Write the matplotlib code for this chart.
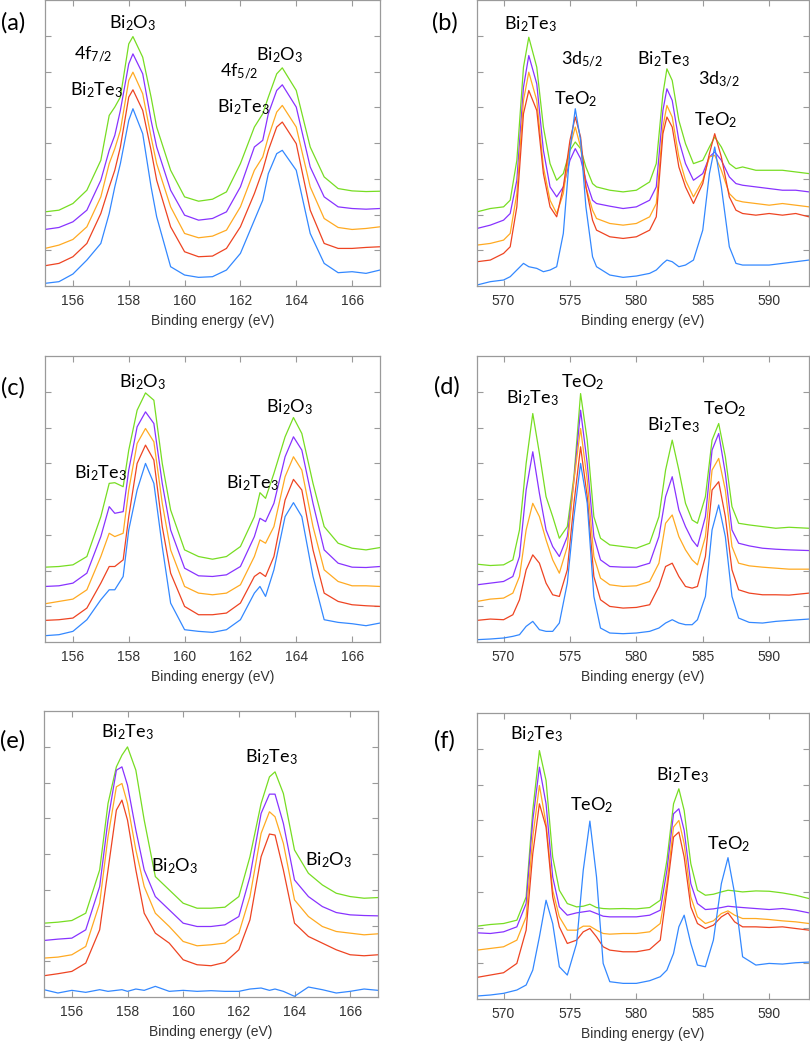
import numpy as np
import matplotlib
matplotlib.use("Agg")
import matplotlib.pyplot as plt

plt.rcParams['font.family'] = ['Liberation Sans', 'DejaVu Sans']
plt.rcParams['mathtext.fontset'] = 'custom'
plt.rcParams['mathtext.rm'] = 'Lato'
plt.rcParams['mathtext.it'] = 'Lato:italic'
plt.rcParams['mathtext.bf'] = 'Lato:bold'

# ---------------- colours of the five spectra (top to bottom) ----------------
series_colors = ['#77dd22', '#8833ff', '#ffaa22', '#ee4422', '#3388ff']

# ---------------- panel (a): Bi 4f ----------------
be_a = [155, 155.5, 156, 156.5, 157, 157.3, 157.5, 157.7, 158, 158.15, 158.5, 158.8, 159, 159.5, 160, 160.5,
        161, 161.5, 162, 162.5, 162.8, 163, 163.3, 163.5, 164, 164.5, 165, 165.5, 166, 166.5, 167]
a_green = [223, 228, 248, 288, 378, 513, 538, 568, 728, 750, 688, 568, 478, 348, 268, 255, 261, 283, 368, 478, 518,
           568, 638, 656, 588, 418, 328, 293, 286, 284, 285]
a_purple = [170, 176, 193, 228, 318, 408, 453, 528, 668, 698, 638, 498, 418, 288, 213, 198, 203, 223, 298, 418, 438,
            518, 588, 605, 538, 358, 268, 238, 233, 231, 233]
a_orange = [113, 123, 140, 178, 268, 368, 413, 468, 618, 643, 578, 448, 368, 238, 158, 145, 150, 168, 238, 348, 388,
            448, 523, 543, 478, 298, 203, 176, 170, 173, 178]
a_red = [61, 68, 88, 128, 218, 298, 348, 418, 568, 590, 528, 408, 318, 178, 103, 88, 90, 113, 178, 278, 348, 408,
         478, 493, 428, 228, 128, 113, 113, 116, 118]
a_blue = [8, 13, 36, 78, 128, 218, 298, 368, 498, 533, 458, 298, 208, 58, 33, 26, 28, 48, 98, 198, 258, 338, 398,
          408, 348, 158, 68, 40, 43, 38, 48]

# ---------------- panel (b): Te 3d ----------------
be_b = [568, 569, 570, 570.5, 571, 571.5, 571.9, 572.5, 573, 573.5, 574, 574.5, 575, 575.4, 575.8, 576.2, 576.7,
        577, 578, 579, 580, 581, 581.5, 582, 582.3, 582.7, 583.2, 583.7, 584.3, 585, 585.5, 585.9, 586.4, 587,
        587.5, 588, 589, 590, 591, 592, 593]
b_green = [223, 233, 238, 258, 378, 658, 748, 658, 478, 368, 318, 338, 408, 433, 413, 358, 308, 298, 288, 283, 288,
           313, 368, 578, 653, 618, 498, 428, 368, 378, 418, 448, 418, 368, 353, 358, 348, 348, 348, 343, 338]
b_purple = [173, 183, 198, 218, 318, 598, 693, 608, 408, 298, 268, 298, 378, 413, 383, 318, 258, 248, 240, 233, 238,
            258, 298, 528, 593, 558, 438, 368, 318, 338, 388, 403, 378, 328, 308, 303, 298, 293, 288, 288, 283]
b_orange = [123, 128, 138, 158, 278, 558, 643, 558, 358, 258, 218, 278, 418, 478, 418, 298, 228, 203, 188, 183, 188,
            208, 248, 478, 543, 508, 388, 318, 268, 318, 388, 393, 348, 278, 258, 253, 248, 243, 248, 243, 238]
b_red = [73, 78, 98, 118, 238, 518, 588, 528, 338, 238, 208, 298, 438, 508, 448, 298, 198, 168, 148, 143, 148, 168,
         208, 458, 508, 478, 358, 298, 248, 308, 398, 458, 388, 268, 228, 218, 213, 218, 213, 218, 208]
b_blue = [3, 13, 18, 28, 48, 68, 58, 53, 43, 48, 58, 158, 408, 533, 438, 238, 88, 58, 33, 26, 30, 38, 48, 68, 78,
          73, 58, 63, 78, 168, 338, 418, 298, 118, 68, 63, 63, 63, 68, 73, 78]

# ---------------- panel (c): Bi 4f ----------------
be_c = [155, 155.5, 156, 156.5, 157, 157.3, 157.5, 157.8, 158, 158.3, 158.6, 158.9, 159.2, 159.5, 160, 160.5, 161,
        161.5, 162, 162.5, 162.7, 162.9, 163.2, 163.6, 163.9, 164.2, 164.6, 165, 165.5, 166, 166.5, 167]
c_green = [225, 227, 232, 257, 377, 477, 479, 467, 577, 697, 749, 727, 537, 397, 277, 257, 249, 257, 287, 377, 449,
           432, 507, 617, 675, 627, 477, 347, 297, 282, 277, 284]
c_purple = [167, 169, 177, 207, 317, 407, 387, 392, 517, 647, 692, 657, 477, 337, 222, 199, 197, 202, 227, 317, 372,
            362, 417, 557, 617, 577, 417, 277, 237, 225, 224, 227]
c_orange = [115, 122, 129, 157, 257, 327, 317, 327, 457, 597, 642, 602, 417, 277, 167, 147, 142, 147, 172, 257, 307,
            297, 347, 497, 557, 517, 347, 217, 182, 169, 169, 167]
c_red = [65, 67, 72, 102, 177, 227, 227, 247, 377, 537, 592, 547, 347, 207, 107, 82, 82, 87, 117, 197, 209, 197, 257,
         427, 489, 457, 277, 147, 122, 112, 109, 107]
c_blue = [19, 22, 32, 67, 127, 157, 157, 197, 337, 457, 537, 477, 287, 117, 37, 32, 29, 37, 67, 147, 167, 137, 217,
          377, 419, 377, 197, 67, 59, 55, 49, 57]

# ---------------- panel (d): Te 3d ----------------
be_d = [568, 569, 570, 570.7, 571.2, 571.7, 572.2, 572.7, 573.2, 573.7, 574.2, 574.8, 575.3, 575.8, 576.3, 576.8,
        577.3, 578, 579, 580, 581, 581.7, 582.2, 582.7, 583.2, 583.7, 584.2, 584.6, 585.2, 585.7, 586.2, 586.7,
        587.2, 587.7, 588.5, 589.5, 590.5, 591.5, 593]
d_green = [234, 230, 232, 247, 337, 537, 687, 567, 437, 377, 312, 347, 497, 747, 607, 377, 312, 292, 287, 282, 297,
           377, 517, 607, 517, 417, 367, 357, 437, 607, 657, 557, 407, 357, 352, 347, 342, 345, 342]
d_purple = [172, 177, 182, 197, 257, 457, 572, 447, 337, 287, 257, 317, 487, 697, 537, 317, 247, 227, 225, 225, 237,
            317, 437, 497, 397, 347, 307, 287, 377, 577, 627, 507, 337, 297, 289, 282, 279, 277, 275]
d_orange = [122, 129, 132, 147, 197, 337, 417, 377, 307, 247, 207, 287, 487, 642, 487, 257, 192, 172, 167, 169, 182,
            237, 357, 382, 317, 277, 247, 232, 317, 517, 552, 457, 287, 237, 229, 225, 222, 219, 219]
d_red = [65, 69, 67, 82, 127, 217, 262, 237, 177, 142, 137, 217, 417, 587, 437, 197, 127, 107, 102, 104, 112, 167,
         227, 237, 197, 167, 162, 167, 257, 457, 482, 377, 217, 157, 147, 142, 142, 141, 147]
d_blue = [7, 9, 12, 17, 22, 47, 62, 37, 32, 32, 57, 177, 377, 537, 417, 137, 42, 27, 25, 27, 32, 42, 57, 67, 57, 52,
          52, 67, 137, 337, 412, 317, 137, 72, 59, 57, 62, 65, 69]

# ---------------- panel (e): Bi 4f ----------------
be_e = [155, 155.5, 156, 156.5, 157, 157.3, 157.6, 157.8, 158, 158.3, 158.6, 159, 159.5, 160, 160.5, 161, 161.5,
        162, 162.4, 162.8, 163.1, 163.3, 163.6, 164, 164.5, 165, 165.5, 166, 166.5, 167]
e_green = [222, 225, 230, 252, 382, 582, 692, 727, 752, 682, 532, 362, 322, 282, 267, 267, 270, 302, 422, 582, 662,
           677, 612, 442, 372, 337, 312, 302, 297, 299]
e_purple = [170, 174, 177, 202, 332, 532, 682, 692, 637, 502, 382, 302, 262, 222, 212, 212, 217, 242, 362, 552, 610,
            610, 522, 352, 302, 272, 254, 247, 245, 244]
e_orange = [117, 120, 127, 152, 282, 482, 632, 642, 582, 442, 332, 252, 212, 167, 154, 157, 162, 192, 302, 492, 557,
            542, 462, 292, 242, 212, 197, 192, 187, 190]
e_red = [64, 70, 77, 102, 202, 382, 562, 592, 532, 382, 252, 192, 162, 112, 97, 94, 104, 142, 232, 422, 490, 487,
         382, 222, 182, 162, 142, 127, 124, 127]
e_blue = [22, 12, 20, 14, 22, 17, 20, 22, 17, 24, 20, 32, 17, 20, 17, 19, 17, 17, 24, 27, 20, 24, 17, 2, 30, 22, 12,
          17, 24, 20]

# ---------------- panel (f): Te 3d ----------------
be_f = [568, 569, 570, 571, 571.7, 572.2, 572.7, 573.2, 573.7, 574.2, 574.8, 575.5, 576, 576.5, 577, 577.5, 578,
        579, 580, 581, 581.8, 582.3, 582.8, 583.2, 583.6, 584.1, 584.6, 585.2, 585.8, 586.4, 586.9, 587.4, 588,
        589, 590, 591, 592, 593]
f_green = [219, 224, 227, 237, 307, 567, 747, 657, 427, 327, 287, 277, 279, 285, 275, 272, 271, 272, 271, 275, 297,
           417, 587, 632, 567, 407, 327, 312, 315, 322, 327, 325, 322, 325, 324, 319, 312, 302]
f_purple = [199, 197, 202, 217, 287, 537, 697, 587, 367, 277, 252, 259, 262, 265, 257, 249, 247, 247, 247, 252, 267,
            387, 557, 572, 507, 347, 287, 269, 271, 275, 279, 277, 275, 272, 269, 272, 267, 259]
f_orange = [147, 152, 157, 177, 247, 487, 642, 527, 327, 247, 207, 207, 219, 219, 207, 197, 195, 197, 197, 202, 227,
            347, 517, 537, 467, 307, 247, 227, 235, 257, 265, 252, 242, 242, 239, 235, 232, 227]
f_red = [65, 72, 79, 107, 207, 437, 587, 517, 307, 217, 167, 177, 202, 212, 187, 157, 147, 142, 142, 149, 177, 327,
         487, 502, 427, 277, 227, 212, 222, 247, 259, 232, 217, 217, 215, 217, 212, 207]
f_blue = [9, 12, 17, 27, 42, 87, 187, 297, 227, 97, 72, 167, 387, 535, 367, 107, 52, 47, 47, 55, 67, 87, 137, 217,
          252, 167, 102, 97, 177, 347, 425, 317, 127, 102, 107, 105, 109, 111]

# ---------------- labels ----------------
panel_letters = ['(a)', '(b)', '(c)', '(d)', '(e)', '(f)']
x_label = 'Binding energy (eV)'
bi_ticks = [156, 158, 160, 162, 164, 166]
te_ticks = [570, 575, 580, 585, 590]

BI2O3 = r'Bi$_2$O$_3$'
BI2TE3 = r'Bi$_2$Te$_3$'
TEO2 = r'TeO$_2$'
ann_a = [(158.15, 790, BI2O3), (156.72, 698, r'4f$_{7/2}$'), (156.84, 590, BI2TE3),
         (161.95, 648, r'4f$_{5/2}$'), (163.41, 693, BI2O3), (162.1, 538, BI2TE3)]
ann_b = [(572.05, 788, BI2TE3), (575.9, 683, r'3d$_{5/2}$'), (575.4, 563, TEO2),
         (582.05, 683, BI2TE3), (586.26, 623, r'3d$_{3/2}$'), (586.0, 500, TEO2)]
ann_c = [(158.49, 782, BI2O3), (163.75, 707, BI2O3), (156.98, 507, BI2TE3), (162.42, 477, BI2TE3)]
ann_d = [(572.14, 732, BI2TE3), (575.93, 782, TEO2), (582.81, 652, BI2TE3), (586.61, 700, TEO2)]
ann_e = [(158.0, 797, BI2TE3), (159.68, 394, BI2O3), (163.16, 722, BI2TE3), (165.23, 412, BI2O3)]
ann_f = [(572.49, 797, BI2TE3), (576.65, 582, TEO2), (583.43, 672, BI2TE3), (586.98, 467, TEO2)]

# ---------------- figure ----------------
W, H = 810, 1041
fig = plt.figure(figsize=(W / 100, H / 100), dpi=100)


def make_axes(left, top, right, bottom):
    return fig.add_axes([left / W, 1 - bottom / H, (right - left) / W, (bottom - top) / H])


panels = [
    (make_axes(45, 0, 380, 286), be_a, [a_green, a_purple, a_orange, a_red, a_blue], (155, 167), bi_ticks, ann_a,
     (13, 23)),
    (make_axes(477, 0, 809, 286), be_b, [b_green, b_purple, b_orange, b_red, b_blue], (568, 593), te_ticks, ann_b,
     (445, 23)),
    (make_axes(45, 356, 380, 642), be_c, [c_green, c_purple, c_orange, c_red, c_blue], (155, 167), bi_ticks, ann_c,
     (13, 388)),
    (make_axes(477, 356, 809, 642), be_d, [d_green, d_purple, d_orange, d_red, d_blue], (568, 593), te_ticks, ann_d,
     (447, 387)),
    (make_axes(44, 711, 378, 997), be_e, [e_green, e_purple, e_orange, e_red, e_blue], (155, 167), bi_ticks, ann_e,
     (13, 741)),
    (make_axes(477, 713, 809, 999), be_f, [f_green, f_purple, f_orange, f_red, f_blue], (568, 593), te_ticks, ann_f,
     (444, 741)),
]

ytick_vals = [107.5 * k for k in range(1, 8)]

for i, (ax, xs, ys_list, xlim, xticks, anns, lbl_pos) in enumerate(panels):
    for ys, col in zip(ys_list, series_colors):
        ax.plot(xs, ys, color=col, lw=0.9)
    ax.set_xlim(*xlim)
    ax.set_ylim(0, 860)
    ax.set_xticks(xticks)
    ax.set_yticks(ytick_vals)
    ax.set_yticklabels([])
    ax.tick_params(direction='in', length=4, width=0.8, color='#9a9a9a', labelsize=10, labelcolor='#333333',
                   top=True, right=True, pad=6)
    for sp in ax.spines.values():
        sp.set_color('#9a9a9a')
        sp.set_linewidth(0.9)
    ax.set_xlabel(x_label, fontsize=10, color='#333333', labelpad=4)
    for (tx, ty, s) in anns:
        ax.text(tx, ty, s, ha='center', va='center', fontsize=13, family='Lato', color='black')
    fig.text(lbl_pos[0] / W, 1 - lbl_pos[1] / H, panel_letters[i], ha='center', va='center', fontsize=17,
             family='Lato', color='black')

fig.savefig('out.png', dpi=100)
